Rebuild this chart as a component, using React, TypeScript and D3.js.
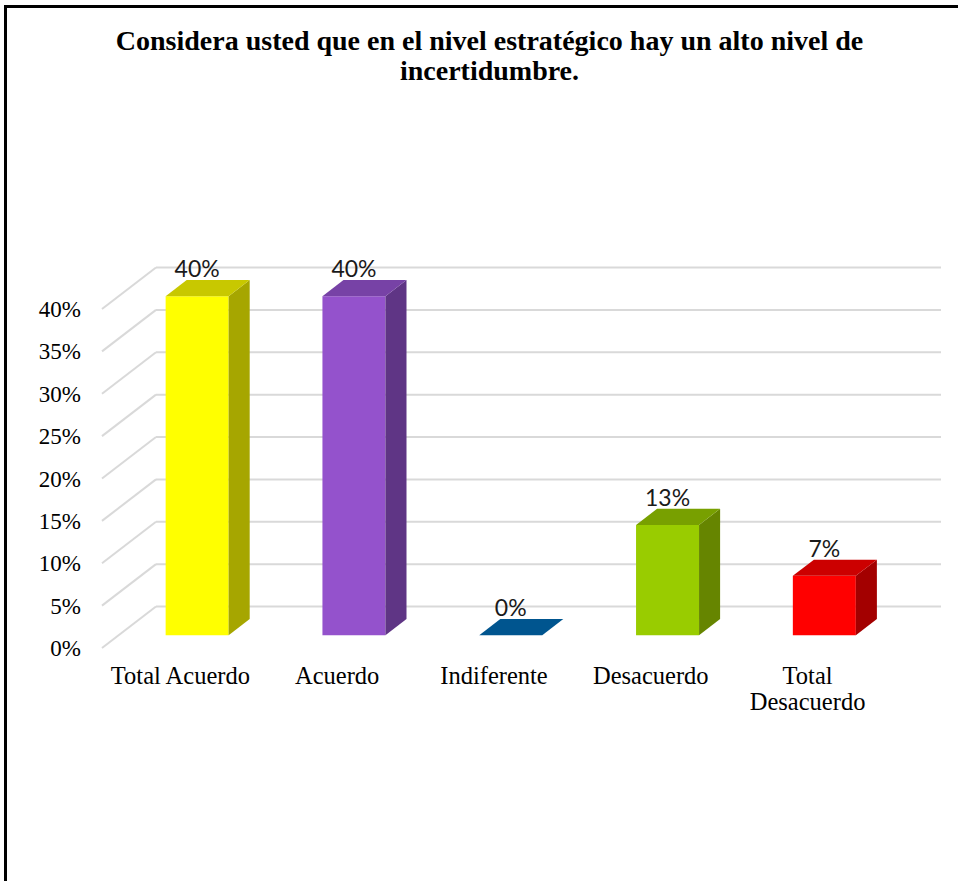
import React, { useEffect, useRef } from "react";
import * as d3 from "d3";

const titleLines = [
  "Considera usted que en el nivel estratégico hay un alto nivel de",
  "incertidumbre.",
];
const categories = ["Total Acuerdo", "Acuerdo", "Indiferente", "Desacuerdo", "Total Desacuerdo"];
const values = [40, 40, 0, 13, 7];
const valueLabels = ["40%", "40%", "0%", "13%", "7%"];
const yTicks = [0, 5, 10, 15, 20, 25, 30, 35, 40];
const frontColors = ["#FFFF00", "#9452CC", "#00558F", "#99CC00", "#FF0000"];
const topColors = ["#C8C800", "#7742A6", "#00558F", "#78A000", "#CC0000"];
const sideColors = ["#A6A600", "#5F3585", "#00406E", "#668500", "#A30000"];

const W = 958;
const H = 881;

export default function App() {
  const ref = useRef<SVGSVGElement | null>(null);

  useEffect(() => {
    const svg = d3.select(ref.current);
    svg.selectAll("*").remove();

    const DX = 54;
    const DY = 41.5;
    const x0 = 102;
    const x1 = 886;
    const y = d3.scaleLinear().domain([0, 40]).range([648, 309]);
    const x = d3.scaleBand<string>().domain(categories).range([x0, x1]).padding(0);
    const bw = x.bandwidth();
    const barW = 63;
    const zF = 0.31;
    const zB = 0.7;
    const P = (xf: number, v: number, z: number): [number, number] => [xf + z * DX, y(v) - z * DY];
    const serif = "'Liberation Serif', 'Times New Roman', Times, serif";

    // border (top and left only visible)
    svg.append("line").attr("x1", 5.5).attr("x2", W).attr("y1", 6.5).attr("y2", 6.5).attr("stroke", "#000").attr("stroke-width", 3);
    svg.append("line").attr("x1", 5.5).attr("x2", 5.5).attr("y1", 5).attr("y2", H).attr("stroke", "#000").attr("stroke-width", 3);

    // title
    svg
      .append("text")
      .attr("x", 489.5)
      .attr("y", 50)
      .attr("text-anchor", "middle")
      .attr("font-family", serif)
      .attr("font-weight", "bold")
      .attr("font-size", 28)
      .selectAll("tspan")
      .data(titleLines)
      .join("tspan")
      .attr("x", 489.5)
      .attr("dy", (_d, i) => (i === 0 ? 0 : 30))
      .text((d) => d);

    // gridlines
    const g = svg.append("g");
    yTicks.forEach((t) => {
      const a = P(x0, t, 0);
      const b = P(x0, t, 1);
      g.append("line").attr("x1", a[0]).attr("y1", a[1]).attr("x2", b[0]).attr("y2", b[1]).attr("stroke", "#D9D9D9").attr("stroke-width", 2);
      g.append("line").attr("x1", b[0]).attr("y1", b[1]).attr("x2", x1 + DX + 1).attr("y2", b[1]).attr("stroke", "#D9D9D9").attr("stroke-width", 2);
    });

    // y tick labels
    svg
      .append("g")
      .selectAll("text")
      .data(yTicks)
      .join("text")
      .attr("x", 81)
      .attr("y", (d) => y(d))
      .attr("dy", "0.35em")
      .attr("text-anchor", "end")
      .attr("font-family", serif)
      .attr("font-size", 23)
      .attr("fill", "#000")
      .text((d) => `${d}%`);

    // bars
    const bars = svg.append("g");
    categories.forEach((c, i) => {
      const cx = (x(c) as number) + bw / 2;
      const l = cx - barW / 2;
      const r = cx + barW / 2;
      const v = values[i];
      const poly = (pts: [number, number][]) => pts.map((p) => p.join(",")).join(" ");
      if (v > 0) {
        const f = [P(l, 0, zF), P(r, 0, zF), P(r, v, zF), P(l, v, zF)];
        bars.append("polygon").attr("points", poly(f as any)).attr("fill", frontColors[i]);
        const s = [P(r, 0, zF), P(r, 0, zB), P(r, v, zB), P(r, v, zF)];
        bars.append("polygon").attr("points", poly(s as any)).attr("fill", sideColors[i]);
      }
      const tp = [P(l, v, zF), P(r, v, zF), P(r, v, zB), P(l, v, zB)];
      bars.append("polygon").attr("points", poly(tp as any)).attr("fill", topColors[i]);

      const lab = P(cx, v, zB);
      bars
        .append("text")
        .attr("x", cx + zF * DX)
        .attr("y", lab[1] - 3)
        .attr("text-anchor", "middle")
        .attr("font-family", "Lato, 'Open Sans', sans-serif")
        .attr("font-size", 23)
        .attr("fill", "#1a1a1a")
        .text(valueLabels[i]);
    });

    // category labels with wrapping
    const catG = svg.append("g");
    categories.forEach((c) => {
      const cx = (x(c) as number) + bw / 2;
      const t = catG
        .append("text")
        .attr("x", cx)
        .attr("y", 684)
        .attr("text-anchor", "middle")
        .attr("font-family", serif)
        .attr("font-size", 24.5)
        .attr("fill", "#000");
      const words = c.split(" ");
      let line: string[] = [];
      let tspan = t.append("tspan").attr("x", cx).attr("dy", 0);
      words.forEach((w) => {
        line.push(w);
        tspan.text(line.join(" "));
        const len = (tspan.node() as SVGTSpanElement).getComputedTextLength();
        if (len > bw - 2 && line.length > 1) {
          line.pop();
          tspan.text(line.join(" "));
          line = [w];
          tspan = t.append("tspan").attr("x", cx).attr("dy", 26).text(w);
        }
      });
    });
  }, []);

  return (
    <svg
      ref={ref}
      width={W}
      height={H}
      style={{ position: "absolute", left: 0, top: 0, background: "#fff" }}
    />
  );
}
